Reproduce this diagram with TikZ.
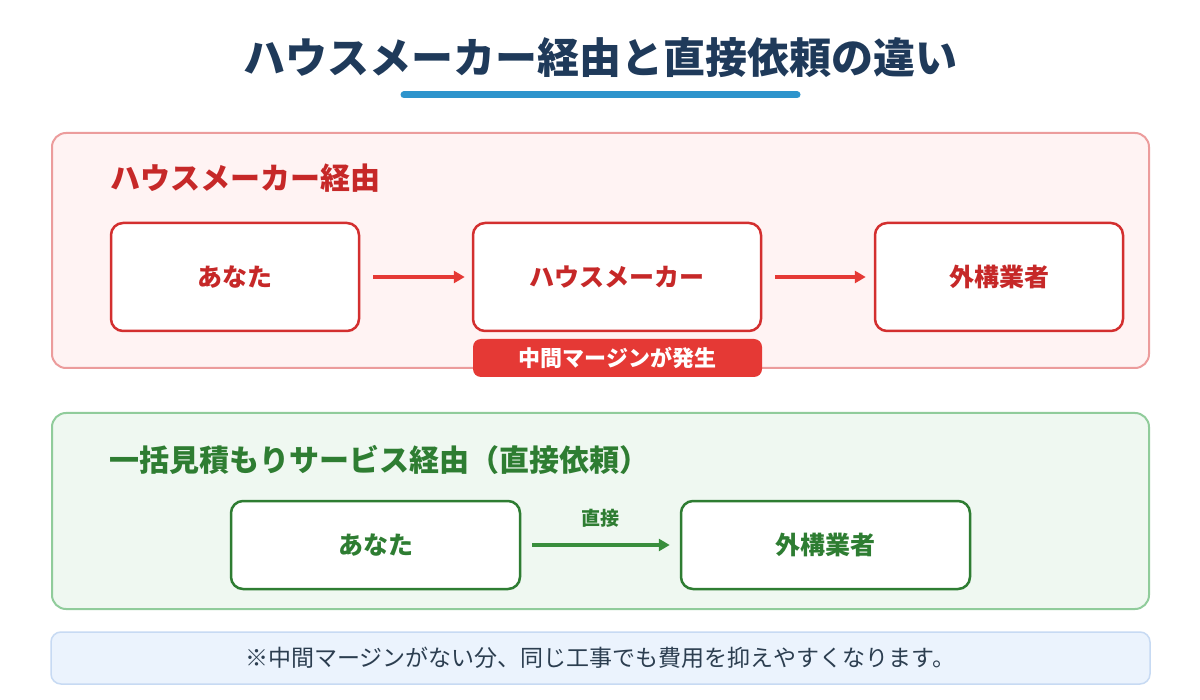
\documentclass[tikz,border=0pt]{standalone}
\usepackage{fontspec}
\newfontfamily\jp{Noto Sans CJK JP}
\usetikzlibrary{arrows.meta}
\definecolor{navy}{HTML}{1F3A5A}
\definecolor{barblue}{HTML}{2E94CC}
\definecolor{redtxt}{HTML}{C62828}
\definecolor{redline}{HTML}{D32F2F}
\definecolor{redarrow}{HTML}{E53935}
\definecolor{redpanel}{HTML}{FFF3F3}
\definecolor{redpanelline}{HTML}{EC9C9C}
\definecolor{greentxt}{HTML}{2E7D32}
\definecolor{greenarrow}{HTML}{388E3C}
\definecolor{greenpanel}{HTML}{EFF8F1}
\definecolor{greenpanelline}{HTML}{90CC9B}
\definecolor{notefill}{HTML}{EBF3FD}
\definecolor{noteline}{HTML}{C7DAF3}
\definecolor{notetxt}{HTML}{2C3E50}
\tikzset{
  panel/.style={draw, line width=2pt, rounded corners=14pt, inner sep=0pt},
  redbox/.style={draw=redline, fill=white, line width=2.5pt, rounded corners=12pt, minimum height=108pt, text=redtxt, font=\jp\bfseries\fontsize{25}{29}\selectfont},
  greenbox/.style={draw=greentxt, fill=white, line width=2.5pt, rounded corners=12pt, minimum height=88pt, text=greentxt, font=\jp\bfseries\fontsize{25}{29}\selectfont},
  redarr/.style={draw=redarrow, line width=4pt, -{Triangle[length=11pt,width=12pt]}},
  greenarr/.style={draw=greenarrow, line width=4pt, -{Triangle[length=11pt,width=12pt]}},
}
\begin{document}
\begin{tikzpicture}[x=1pt,y=-1pt]
\useasboundingbox[fill=white] (0,0) rectangle (1200,700);
% title
\node[font=\jp\bfseries\fontsize{42}{48}\selectfont, text=navy] (title) at (600,58) {ハウスメーカー経由と直接依頼の違い};
\draw[barblue, line width=7pt, line cap=round] (404,95) -- (797,95);
% top panel
\node[panel, draw=redpanelline, fill=redpanel, minimum width=1097pt, minimum height=235pt] (p1) at (600.5,250.5) {};
\node[anchor=west, font=\jp\bfseries\fontsize{30}{34}\selectfont, text=redtxt] (h1) at (107,178) {ハウスメーカー経由};
\node[redbox, minimum width=248pt] (you1) at (235,277) {あなた};
\node[redbox, minimum width=288pt] (hm) at (617,277) {ハウスメーカー};
\node[redbox, minimum width=248pt] (ext1) at (999,277) {外構業者};
\draw[redarr, shorten <=13pt, shorten >=7pt] (you1) -- (hm);
\draw[redarr, shorten <=13pt, shorten >=8pt] (hm) -- (ext1);
\node[fill=redarrow, rounded corners=8pt, minimum width=289pt, minimum height=38pt, inner sep=0pt, text=white, font=\jp\bfseries\fontsize{22}{25}\selectfont] (badge) at (617.5,358) {中間マージンが発生};
% bottom panel
\node[panel, draw=greenpanelline, fill=greenpanel, minimum width=1097pt, minimum height=196pt] (p2) at (600.5,511) {};
\node[anchor=west, font=\jp\bfseries\fontsize{30}{34}\selectfont, text=greentxt] (h2) at (106,460) {一括見積もりサービス経由（直接依頼）};
\node[greenbox, minimum width=289pt] (you2) at (375.5,545) {あなた};
\node[greenbox, minimum width=289pt] (ext2) at (825.5,545) {外構業者};
\draw[greenarr, shorten <=11pt, shorten >=10pt] (you2) -- (ext2) node[midway, above=12pt, text=greentxt, font=\jp\bfseries\fontsize{19}{21}\selectfont] (lbl) {直接};
% note
\node[draw=noteline, fill=notefill, line width=1.5pt, rounded corners=10pt, minimum width=1099pt, minimum height=52pt, inner sep=0pt, text=notetxt, font=\jp\fontsize{23}{27}\selectfont] (note) at (600.5,658) {※中間マージンがない分、同じ工事でも費用を抑えやすくなります。};
\end{tikzpicture}
\end{document}
